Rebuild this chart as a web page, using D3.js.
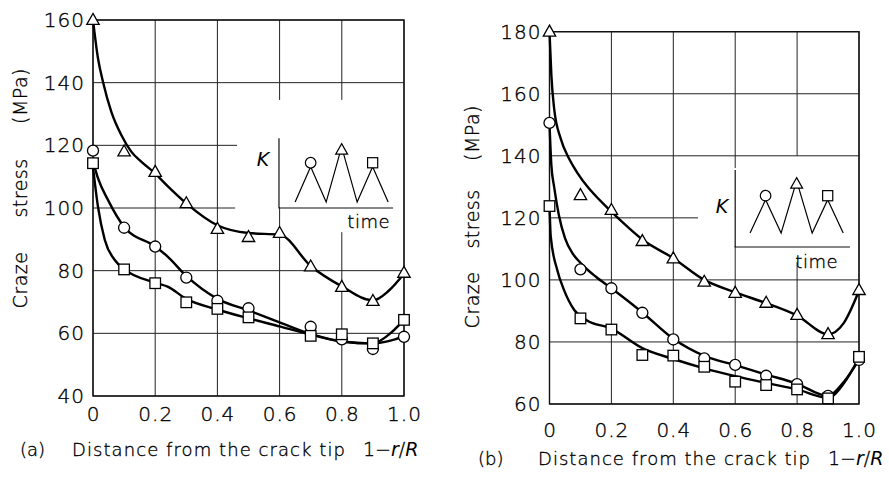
<!DOCTYPE html>
<html>
<head>
<meta charset="utf-8">
<script src="https://cdn.jsdelivr.net/npm/d3@7"></script>
<style>
body { margin: 0; background: #fff; }
svg { display: block; font-family: "DejaVu Sans", sans-serif; font-weight: 200; }
svg text { fill: #000; stroke: #000; stroke-width: 0.35px; }
svg .it { font-style: italic; stroke-width: 0; }
</style>
</head>
<body>
<svg id="chart" width="889" height="477"></svg>
<script>
// ---- data ----
var xTicks = [0, 0.2, 0.4, 0.6, 0.8, 1.0];
var xTickLabels = ["0", "0.2", "0.4", "0.6", "0.8", "1.0"];
var yTicksA = [40, 60, 80, 100, 120, 140, 160];
var yTicksB = [60, 80, 100, 120, 140, 160, 180];

// panel (a) measured points
var xTriA = [0, 0.1, 0.2, 0.3, 0.4, 0.5, 0.6, 0.7, 0.8, 0.9, 1.0];
var triA = [160, 118, 111.5, 101.5, 93.3, 90.7, 92, 81.3, 74.8, 70.3, 79.3];
var xCirA = [0, 0.1, 0.2, 0.3, 0.4, 0.5, 0.7, 0.8, 0.9, 1.0];
var cirA = [118.3, 93.7, 87.7, 77.8, 70.4, 68, 62.1, 58.1, 55, 58.9];
var xSqA = [0, 0.1, 0.2, 0.3, 0.4, 0.5, 0.7, 0.8, 0.9, 1.0];
var sqA = [114.3, 80.4, 76, 69.9, 67.8, 65.1, 59.2, 59.7, 56.8, 64.3];

// panel (a) drawn curves
var xTriFitA = [0, 0.016, 0.032, 0.059, 0.091, 0.123, 0.155, 0.2, 0.24, 0.3, 0.4, 0.5, 0.6, 0.7, 0.8, 0.9, 0.95, 1.0];
var triFitA = [160, 147.8, 140.3, 130.7, 123.3, 118, 114.8, 111, 107, 101.5, 94.5, 92, 91.5, 81.5, 75, 70.5, 73.5, 79];
var xCirFitA = [0, 0.016, 0.048, 0.1, 0.2, 0.24, 0.3, 0.4, 0.5, 0.6, 0.7, 0.8, 0.9, 0.95, 1.0];
var cirFitA = [115, 109.5, 102.6, 94, 87.7, 84.5, 78.3, 71, 67.3, 63.5, 59.8, 57.4, 56.8, 57.5, 59];
var xSqFitA = [0, 0.016, 0.038, 0.07, 0.1, 0.2, 0.24, 0.3, 0.4, 0.5, 0.6, 0.7, 0.8, 0.9, 0.95, 1.0];
var sqFitA = [113, 100.4, 89.8, 83.4, 80.5, 76.2, 74.9, 71, 67.6, 64.8, 62.2, 59.6, 57.4, 56.8, 59.5, 64.3];

// panel (b) measured points
var xAllB = [0, 0.1, 0.2, 0.3, 0.4, 0.5, 0.6, 0.7, 0.8, 0.9, 1.0];
var triB = [180, 127.3, 122.5, 112.5, 106.9, 99.4, 95.8, 92.6, 88.7, 82.5, 96.7];
var cirB = [150.6, 103.4, 97.3, 89.4, 80.8, 74.7, 72.6, 69.1, 66.4, 62.6, 74.2];
var sqB = [123.8, 87.6, 84, 75.8, 75.6, 72, 67.2, 66.1, 64.7, 61.8, 75.2];

// panel (b) drawn curves
var xTriFitB = [0, 0.006, 0.015, 0.036, 0.063, 0.09, 0.2, 0.24, 0.3, 0.4, 0.5, 0.6, 0.7, 0.8, 0.9, 0.95, 1.0];
var triFitB = [180, 166, 155.2, 145.6, 139.1, 134.5, 122, 118.2, 113, 107, 100, 96, 92.5, 88.5, 82.5, 86, 96.5];
var xCirFitB = [0, 0.006, 0.015, 0.03, 0.05, 0.075, 0.1, 0.15, 0.2, 0.3, 0.4, 0.5, 0.6, 0.7, 0.8, 0.9, 0.95, 1.0];
var cirFitB = [150.4, 137, 130, 121, 113.5, 108.5, 105.5, 101, 97.3, 89.5, 81, 75.5, 72.5, 69.5, 66.5, 62.6, 67, 74.2];
var xSqFitB = [0, 0.004, 0.025, 0.047, 0.08, 0.12, 0.2, 0.3, 0.4, 0.5, 0.6, 0.7, 0.8, 0.9, 0.95, 1.0];
var sqFitB = [124, 114, 103.2, 96.7, 90.3, 87, 84.3, 78, 74.5, 71.5, 69, 66.8, 64.7, 62, 66.5, 75];

// inset: loading waveform K(t)
var insetT = [0, 1, 2, 3, 4, 5, 6];
var insetK = [0, 0.64, 0, 1, 0, 0.64, 0];
var insetMarks = [{t: 1, k: 0.64, s: "circle"}, {t: 3, k: 1, s: "triangle"}, {t: 5, k: 0.64, s: "square"}];

var svg = d3.select("#chart");

var panels = [
	{
		left: 93, right: 404, top: 20, bottom: 396,
		yDomain: [40, 160], yTicks: yTicksA,
		xPad: 11,
		series: [
			{shape: "triangle", xs: xTriA, ys: triA, fx: xTriFitA, fy: triFitA},
			{shape: "circle", xs: xCirA, ys: cirA, fx: xCirFitA, fy: cirFitA},
			{shape: "square", xs: xSqA, ys: sqA, fx: xSqFitA, fy: sqFitA}
		],
		// grid lines broken around the inset
		hGrid: {120: [0, 0.463], 100: [0, 0.457]},
		vGrid: {0.6: [[160, 134.5], [122.3, 40]], 0.8: [[160, 134.5], [92.3, 40]]},
		inset: {x0: 0.598, x1: 0.965, yTop: 122.3, yBot: 100, w0: 0.65, w1: 0.949, k0: 101.9, k1: 119.5,
			kx: 263, ky: 166, timeX: 390, timeY: 228},
		yLabel: {x: 20, craze: 280, stress: 188, mpa: 96},
		caption: {tag: "(a)", tagX: 20, textX: 72, textEnd: 345, rX: 363, y: 456}
	},
	{
		left: 549.5, right: 859, top: 31.7, bottom: 404,
		yDomain: [60, 180], yTicks: yTicksB,
		xPad: 19,
		series: [
			{shape: "triangle", xs: xAllB, ys: triB, fx: xTriFitB, fy: triFitB},
			{shape: "circle", xs: xAllB, ys: cirB, fx: xCirFitB, fy: cirFitB},
			{shape: "square", xs: xAllB, ys: sqB, fx: xSqFitB, fy: sqFitB}
		],
		hGrid: {120: [0, 0.48]},
		vGrid: {0.8: [[180, 140], [105.7, 60]]},
		inset: {x0: 0.6, x1: 0.971, yTop: 135.4, yBot: 110.6, w0: 0.648, w1: 0.949, k0: 115.1, k1: 131.9,
			kx: 722, ky: 213, timeX: 838, timeY: 268},
		yLabel: {x: 472, craze: 300, stress: 219, mpa: 133},
		caption: {tag: "(b)", tagX: 478, textX: 538, textEnd: 810, rX: 828, y: 465}
	}
];

function marker(sel, shape, cx, cy, size) {
	if (shape == "circle") {
		sel.append("circle").attr("cx", cx).attr("cy", cy).attr("r", size * 0.48);
	} else if (shape == "square") {
		var s = size * 0.92;
		sel.append("rect").attr("x", cx - s / 2).attr("y", cy - s / 2).attr("width", s).attr("height", s);
	} else {
		var w = size * 1.08, h = size * 0.95;
		sel.append("path").attr("d", "M" + cx + "," + (cy - h * 0.6) + "L" + (cx + w / 2) + "," + (cy + h * 0.4) + "L" + (cx - w / 2) + "," + (cy + h * 0.4) + "Z");
	}
}

panels.forEach(function(p) {
	var x = d3.scaleLinear().domain([0, 1]).range([p.left, p.right]);
	var y = d3.scaleLinear().domain(p.yDomain).range([p.bottom, p.top]);
	var g = svg.append("g");

	// grid
	var grid = g.append("g").attr("stroke", "#222").attr("stroke-width", 1).attr("fill", "none");
	p.yTicks.forEach(function(v) {
		var seg = p.hGrid[v] || [0, 1];
		grid.append("line").attr("x1", x(seg[0])).attr("x2", x(seg[1])).attr("y1", y(v)).attr("y2", y(v));
	});
	xTicks.forEach(function(v) {
		var segs = p.vGrid[v] || [p.yDomain.slice().reverse()];
		segs.forEach(function(s) {
			grid.append("line").attr("x1", x(v)).attr("x2", x(v)).attr("y1", y(s[0])).attr("y2", y(s[1]));
		});
	});
	// frame
	g.append("rect").attr("x", p.left).attr("y", p.top)
		.attr("width", p.right - p.left).attr("height", p.bottom - p.top)
		.attr("fill", "none").attr("stroke", "#111").attr("stroke-width", 1.4);

	// axes labels
	var yAxis = d3.axisLeft(y).tickValues(p.yTicks).tickSize(0).tickPadding(8);
	var ya = g.append("g").attr("transform", "translate(" + p.left + ",0)").call(yAxis);
	var xAxis = d3.axisBottom(x).tickValues(xTicks).tickSize(0).tickPadding(p.xPad)
		.tickFormat(function(d, i) { return xTickLabels[i]; });
	var xa = g.append("g").attr("transform", "translate(0," + p.bottom + ")").call(xAxis);
	[ya, xa].forEach(function(a) {
		a.select(".domain").remove();
		a.selectAll("text").attr("font-size", 20)
			.attr("font-family", "DejaVu Sans").attr("font-weight", 200).attr("letter-spacing", 1);
	});

	// curves
	var line = d3.line().x(function(d) { return x(d[0]); }).y(function(d) { return y(d[1]); })
		.curve(d3.curveMonotoneX);
	p.series.forEach(function(s) {
		var pts = s.fx.map(function(v, i) { return [v, s.fy[i]]; });
		g.append("path").attr("d", line(pts)).attr("fill", "none")
			.attr("stroke", "#000").attr("stroke-width", 2.4).attr("stroke-linejoin", "round");
	});
	// markers
	var mk = g.append("g").attr("fill", "#fff").attr("stroke", "#000").attr("stroke-width", 1.3);
	p.series.forEach(function(s) {
		s.xs.forEach(function(v, i) {
			marker(mk, s.shape, x(v), y(s.ys[i]), 11.5);
		});
	});

	// inset
	var ins = p.inset;
	var ig = g.append("g");
	ig.append("rect").attr("x", x(ins.x0) - 2).attr("y", y(ins.yTop) - 2)
		.attr("width", x(ins.x1) - x(ins.x0) + 4).attr("height", y(ins.yBot) - y(ins.yTop) + 1)
		.attr("fill", "#fff");
	ig.append("path")
		.attr("d", "M" + x(ins.x0) + "," + y(ins.yTop) + "V" + y(ins.yBot) + "H" + x(ins.x1))
		.attr("fill", "none").attr("stroke", "#111").attr("stroke-width", 1.2);
	var tx = d3.scaleLinear().domain([0, 6]).range([x(ins.w0), x(ins.w1)]);
	var ky = d3.scaleLinear().domain([0, 1]).range([y(ins.k0), y(ins.k1)]);
	ig.append("path")
		.attr("d", d3.line().x(function(d, i) { return tx(insetT[i]); }).y(function(d) { return ky(d); })(insetK))
		.attr("fill", "none").attr("stroke", "#000").attr("stroke-width", 1.2);
	var im = ig.append("g").attr("fill", "#fff").attr("stroke", "#000").attr("stroke-width", 1.2);
	insetMarks.forEach(function(m) {
		var off = m.s == "triangle" ? 3 : -4;
		marker(im, m.s, tx(m.t), ky(m.k) + off, 11);
	});
	ig.append("text").attr("class", "it").attr("x", ins.kx).attr("y", ins.ky).attr("text-anchor", "middle")
		.attr("font-size", 19).text("K");
	ig.append("text").attr("x", ins.timeX).attr("y", ins.timeY).attr("text-anchor", "end")
		.attr("font-size", 18).attr("letter-spacing", 0.5).text("time");

	// y label words
	var yl = p.yLabel;
	[["Craze", yl.craze], ["stress", yl.stress], ["(MPa)", yl.mpa]].forEach(function(w) {
		g.append("text").attr("transform", "translate(" + (yl.x + 7) + "," + w[1] + ") rotate(-90)")
			.attr("text-anchor", "middle").attr("font-size", 19)
			.attr("letter-spacing", 0.5).text(w[0]);
	});

	// caption
	var c = p.caption;
	g.append("text").attr("x", c.tagX).attr("y", c.y).attr("font-size", 18).text(c.tag);
	g.append("text").attr("x", c.textX).attr("y", c.y).attr("font-size", 18)
		.attr("textLength", c.textEnd - c.textX).attr("lengthAdjust", "spacing")
		.text("Distance from the crack tip");
	var r = g.append("text").attr("x", c.rX).attr("y", c.y).attr("font-size", 19);
	r.append("tspan").text("1\u2212");
	r.append("tspan").attr("class", "it").text("r");
	r.append("tspan").text("/");
	r.append("tspan").attr("class", "it").text("R");
});
</script>
</body>
</html>
